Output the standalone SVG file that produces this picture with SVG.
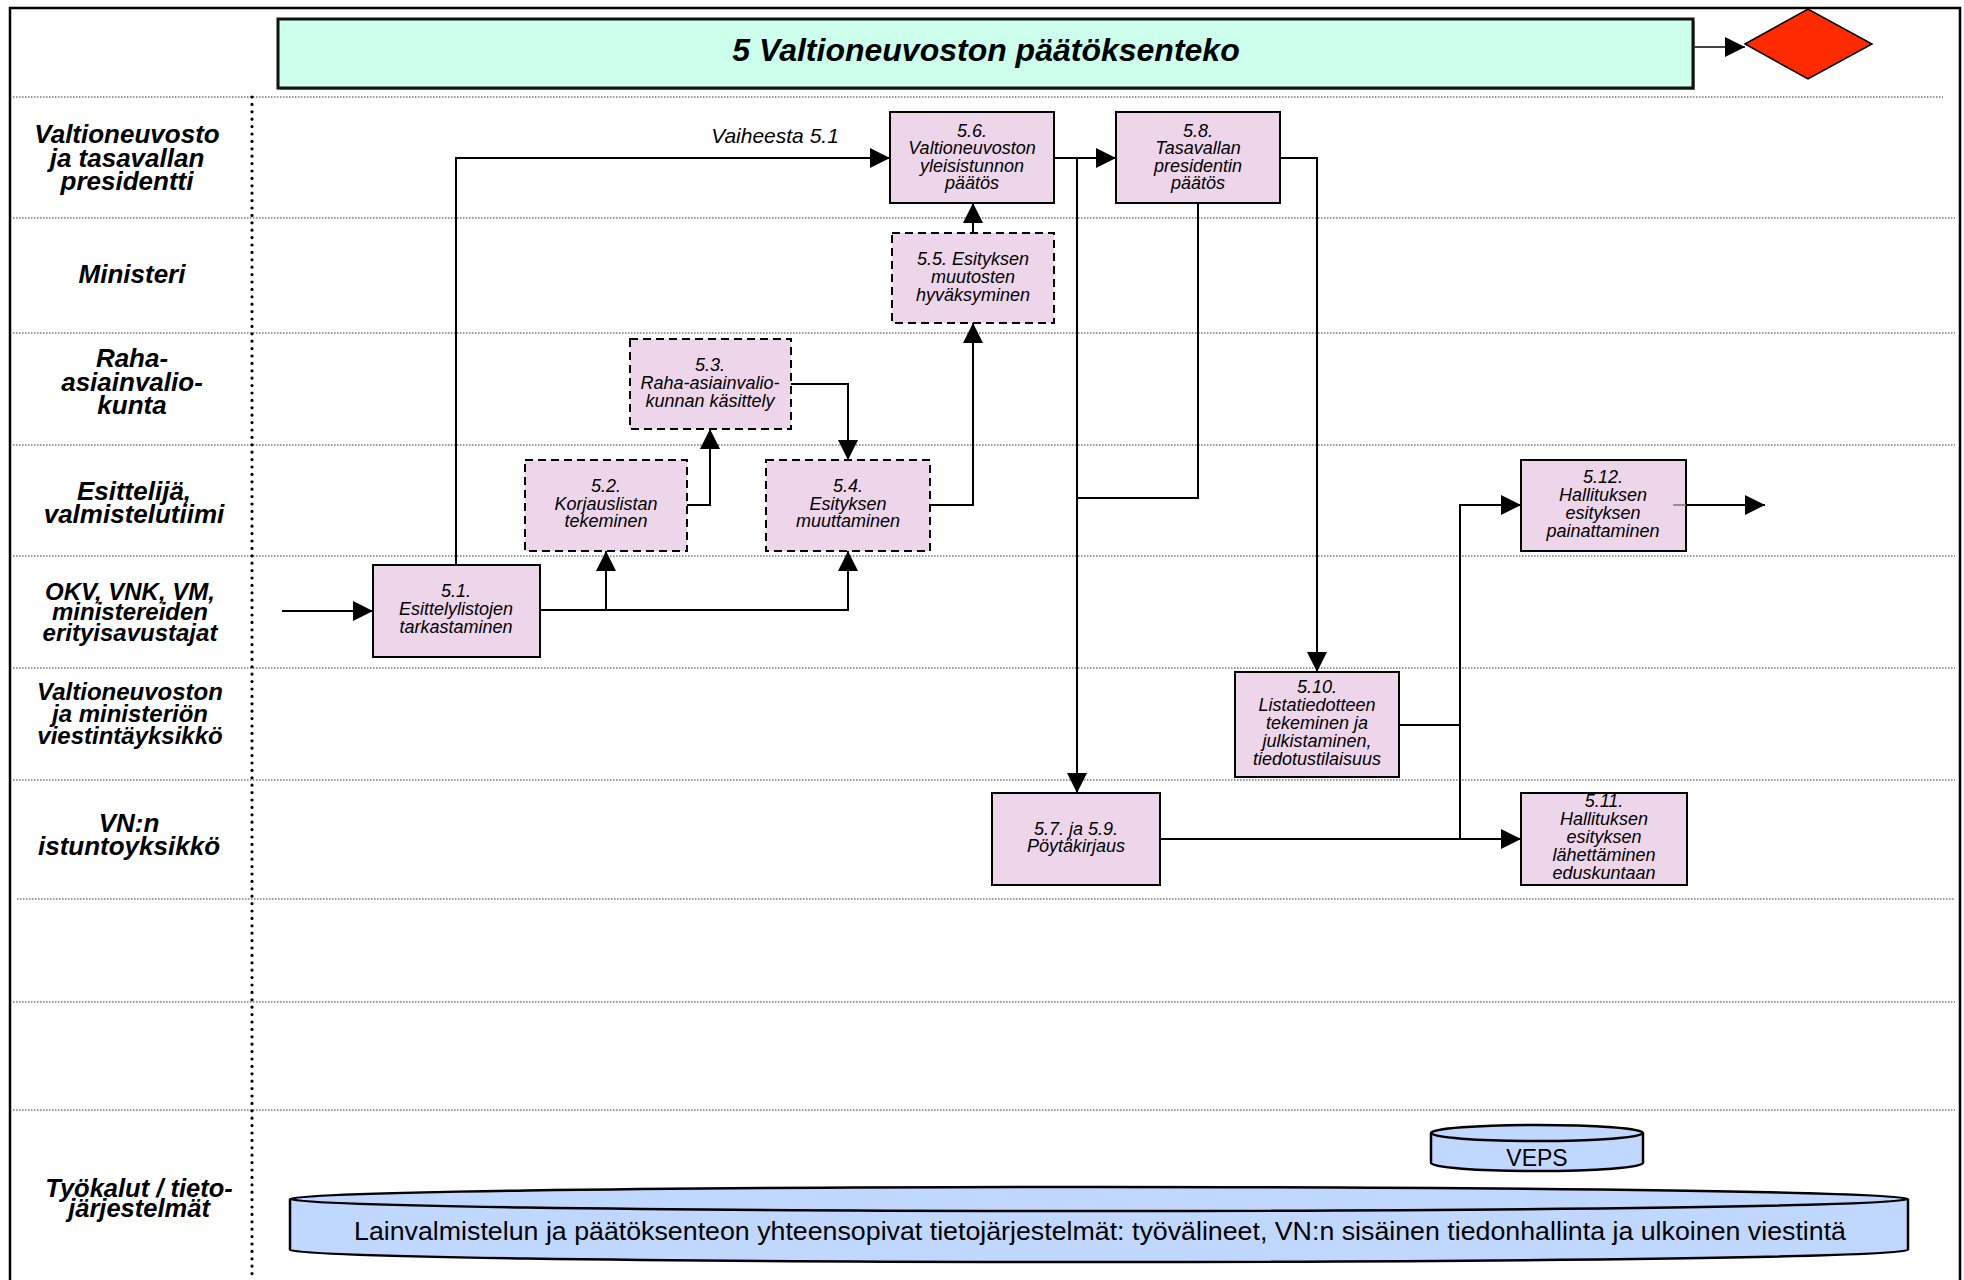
<svg xmlns="http://www.w3.org/2000/svg" width="1964" height="1280" viewBox="0 0 1964 1280">
<defs>
<style>
.lane{stroke:#333;stroke-width:1.2;stroke-dasharray:1.5 1.5;fill:none}
.vsep{stroke:#000;stroke-width:3.2;stroke-dasharray:0 7.4;stroke-linecap:round;fill:none}
.lbl{font-family:"Liberation Sans",Arial,sans-serif;font-weight:bold;font-style:italic;font-size:26px;text-anchor:middle;fill:#000}
.nt{font-family:"Liberation Sans",Arial,sans-serif;font-style:italic;font-size:18px;text-anchor:middle;fill:#000}
.box{fill:#EED6EA;stroke:#000;stroke-width:2}
.dbox{fill:#EED6EA;stroke:#000;stroke-width:2;stroke-dasharray:8 5}
.conn{fill:none;stroke:#000;stroke-width:2}
.cyl{fill:#C0D8FF;stroke:#000;stroke-width:2.5}
</style>
<marker id="ah" markerUnits="userSpaceOnUse" markerWidth="20" markerHeight="20" viewBox="0 0 20 20" refX="20" refY="10" orient="auto">
<path d="M0,0 L20,10 L0,20 z" fill="#000"/>
</marker>
</defs>
<rect x="0" y="0" width="1964" height="1280" fill="#fff"/>
<g id="frame">
<path d="M10,1280 V8 H1960 V1280" fill="none" stroke="#000" stroke-width="2.5"/>
<path class="lane" d="M13,97 H1943"/>
<path class="lane" d="M13,218 H1955"/>
<path class="lane" d="M13,333 H1955"/>
<path class="lane" d="M13,445 H1955"/>
<path class="lane" d="M13,556 H1955"/>
<path class="lane" d="M13,668 H1955"/>
<path class="lane" d="M13,780 H1955"/>
<path class="lane" d="M17,899 H1955"/>
<path class="lane" d="M13,1002 H1955"/>
<path class="lane" d="M13,1110 H1955"/>
<path class="vsep" d="M252,97 V1280"/>
</g>
<g id="lane-labels">
<text class="lbl" x="127" y="143">Valtioneuvosto</text>
<text class="lbl" x="127" y="167">ja tasavallan</text>
<text class="lbl" x="127" y="190">presidentti</text>
<text class="lbl" x="132" y="283">Ministeri</text>
<text class="lbl" x="132" y="367">Raha-</text>
<text class="lbl" x="132" y="391">asiainvalio-</text>
<text class="lbl" x="132" y="414">kunta</text>
<text class="lbl" x="134" y="500">Esittelijä,</text>
<text class="lbl" x="134" y="523">valmistelutiimi</text>
<text class="lbl" x="130" y="600" style="font-size:24px">OKV, VNK, VM,</text>
<text class="lbl" x="130" y="620" style="font-size:24px">ministereiden</text>
<text class="lbl" x="130" y="641" style="font-size:24px">erityisavustajat</text>
<text class="lbl" x="130" y="700" style="font-size:24px">Valtioneuvoston</text>
<text class="lbl" x="130" y="722" style="font-size:24px">ja ministeriön</text>
<text class="lbl" x="130" y="744" style="font-size:24px">viestintäyksikkö</text>
<text class="lbl" x="129" y="832">VN:n</text>
<text class="lbl" x="129" y="855">istuntoyksikkö</text>
<text class="lbl" x="139" y="1197" style="font-size:25.5px">Työkalut / tieto-</text>
<text class="lbl" x="139" y="1217" style="font-size:25.5px">järjestelmät</text>
</g>
<g id="title">
<rect x="280" y="21" width="1415" height="69" fill="#999"/>
<rect x="278" y="19" width="1415" height="69" fill="#CCFFEC" stroke="#111" stroke-width="3"/>
<text x="986" y="61" style="font-family:'Liberation Sans',Arial,sans-serif;font-weight:bold;font-style:italic;font-size:32px;text-anchor:middle">5 Valtioneuvoston päätöksenteko</text>
</g>
<g id="end-diamond">
<polygon points="1745,44 1808,9 1872,44 1808,79" fill="#FF2A00" stroke="#000" stroke-width="1.5"/>
</g>
<g id="n5-1">
<rect class="box" x="373" y="565" width="167" height="92"/>
<text class="nt" x="456" y="597">5.1.</text>
<text class="nt" x="456" y="615">Esittelylistojen</text>
<text class="nt" x="456" y="633">tarkastaminen</text>
</g>
<g id="n5-2">
<rect class="dbox" x="525" y="460" width="162" height="91"/>
<text class="nt" x="606" y="492">5.2.</text>
<text class="nt" x="606" y="510">Korjauslistan</text>
<text class="nt" x="606" y="527">tekeminen</text>
</g>
<g id="n5-3">
<rect class="dbox" x="630" y="339" width="161" height="90"/>
<text class="nt" x="710" y="371">5.3.</text>
<text class="nt" x="710" y="389">Raha-asiainvalio-</text>
<text class="nt" x="710" y="407">kunnan käsittely</text>
</g>
<g id="n5-4">
<rect class="dbox" x="766" y="460" width="164" height="91"/>
<text class="nt" x="848" y="492">5.4.</text>
<text class="nt" x="848" y="510">Esityksen</text>
<text class="nt" x="848" y="527">muuttaminen</text>
</g>
<g id="n5-5">
<rect class="dbox" x="892" y="233" width="162" height="90"/>
<text class="nt" x="973" y="265">5.5. Esityksen</text>
<text class="nt" x="973" y="283">muutosten</text>
<text class="nt" x="973" y="301">hyväksyminen</text>
</g>
<g id="n5-6">
<rect class="box" x="890" y="112" width="164" height="91"/>
<text class="nt" x="972" y="137">5.6.</text>
<text class="nt" x="972" y="154">Valtioneuvoston</text>
<text class="nt" x="972" y="172">yleisistunnon</text>
<text class="nt" x="972" y="189">päätös</text>
</g>
<g id="n5-8">
<rect class="box" x="1116" y="112" width="164" height="91"/>
<text class="nt" x="1198" y="137">5.8.</text>
<text class="nt" x="1198" y="154">Tasavallan</text>
<text class="nt" x="1198" y="172">presidentin</text>
<text class="nt" x="1198" y="189">päätös</text>
</g>
<g id="n5-10">
<rect class="box" x="1235" y="672" width="164" height="105"/>
<text class="nt" x="1317" y="693">5.10.</text>
<text class="nt" x="1317" y="711">Listatiedotteen</text>
<text class="nt" x="1317" y="729">tekeminen ja</text>
<text class="nt" x="1317" y="747">julkistaminen,</text>
<text class="nt" x="1317" y="765">tiedotustilaisuus</text>
</g>
<g id="n5-7-9">
<rect class="box" x="992" y="793" width="168" height="92"/>
<text class="nt" x="1076" y="835">5.7. ja 5.9.</text>
<text class="nt" x="1076" y="852">Pöytäkirjaus</text>
</g>
<g id="n5-11">
<rect class="box" x="1521" y="793" width="166" height="92"/>
<text class="nt" x="1604" y="807">5.11.</text>
<text class="nt" x="1604" y="825">Hallituksen</text>
<text class="nt" x="1604" y="843">esityksen</text>
<text class="nt" x="1604" y="861">lähettäminen</text>
<text class="nt" x="1604" y="879">eduskuntaan</text>
</g>
<g id="n5-12">
<rect class="box" x="1521" y="460" width="165" height="91"/>
<text class="nt" x="1603" y="483">5.12.</text>
<text class="nt" x="1603" y="501">Hallituksen</text>
<text class="nt" x="1603" y="519">esityksen</text>
<text class="nt" x="1603" y="537">painattaminen</text>
</g>
<g id="veps">
<path class="cyl" d="M1431,1133 V1163 A106,8 0 0 0 1643,1163 V1133"/>
<ellipse class="cyl" cx="1537" cy="1133" rx="106" ry="8"/>
<text x="1537" y="1166" style="font-family:'Liberation Sans',Arial,sans-serif;font-size:23px;text-anchor:middle">VEPS</text>
</g>
<g id="tietojarjestelmat">
<path class="cyl" d="M290,1199 V1250 A809,12 0 0 0 1908,1250 V1199"/>
<ellipse class="cyl" cx="1099" cy="1199" rx="809" ry="12"/>
<text x="1100" y="1240" textLength="1492" lengthAdjust="spacingAndGlyphs" style="font-family:'Liberation Sans',Arial,sans-serif;font-size:26.5px;text-anchor:middle">Lainvalmistelun ja päätöksenteon yhteensopivat tietojärjestelmät: työvälineet, VN:n sisäinen tiedonhallinta ja ulkoinen viestintä</text>
</g>
<g id="connectors">
<path class="conn" d="M282,611 H373" marker-end="url(#ah)"/>
<path class="conn" d="M456,565 V158 H890" marker-end="url(#ah)"/>
<path class="conn" d="M540,610 H848 V551" marker-end="url(#ah)"/>
<path class="conn" d="M606,610 V551" marker-end="url(#ah)"/>
<path class="conn" d="M687,505 H710 V429" marker-end="url(#ah)"/>
<path class="conn" d="M791,384 H848 V460" marker-end="url(#ah)"/>
<path class="conn" d="M930,505 H973 V323" marker-end="url(#ah)"/>
<path class="conn" d="M973,233 V203" marker-end="url(#ah)"/>
<path class="conn" d="M1054,158 H1116" marker-end="url(#ah)"/>
<path class="conn" d="M1077,158 V793" marker-end="url(#ah)"/>
<path class="conn" d="M1198,203 V498 H1077"/>
<path class="conn" d="M1280,158 H1317 V672" marker-end="url(#ah)"/>
<path class="conn" d="M1399,725 H1460"/>
<path class="conn" d="M1160,839 H1521" marker-end="url(#ah)"/>
<path class="conn" d="M1460,839 V505 H1521" marker-end="url(#ah)"/>
<path d="M1673,505 H1686" fill="none" stroke="#777" stroke-width="1.5"/>
<path class="conn" d="M1686,505 H1765" marker-end="url(#ah)"/>
<path d="M1694,47 H1745" fill="none" stroke="#444" stroke-width="2" marker-end="url(#ah)"/>
<text x="775" y="143" style="font-family:'Liberation Sans',Arial,sans-serif;font-style:italic;font-size:21px;text-anchor:middle">Vaiheesta 5.1</text>
</g>
</svg>
